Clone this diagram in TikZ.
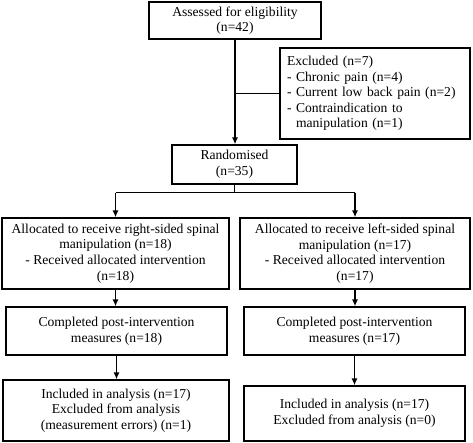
\documentclass[tikz,border=0pt]{standalone}
\usepackage{fontspec}
\setmainfont{Liberation Serif}
\usetikzlibrary{arrows.meta}
\begin{document}
\begin{tikzpicture}[x=1pt,y=-1pt,
  box/.style={draw, line width=1.3pt, align=center, inner sep=2pt,
    font=\fontsize{13.6}{15.6}\selectfont},
  conn/.style={line width=1.3pt},
  arr/.style={line width=1.3pt, -{Latex[length=7pt,width=6pt]}}]
\useasboundingbox (0,0) rectangle (473,443);
\node[box, minimum width=172pt, minimum height=37pt] (assess) at (235,20.5)
  {Assessed for eligibility\\(n=42)};
\node[box, align=left, minimum width=190pt, minimum height=91pt, text width=176pt] (excl) at (375,93.5)
  {Excluded (n=7)\\- Chronic pain (n=4)\\- Current low back pain (n=2)\\- Contraindication to\\\phantom{- }manipulation (n=1)};
\node[box, minimum width=125pt, minimum height=39pt] (rand) at (234.5,164.5)
  {Randomised\\(n=35)};
\node[box, minimum width=227pt, minimum height=71pt] (allocL) at (115.5,253.5)
  {Allocated to receive right-sided spinal\\manipulation (n=18)\\- Received allocated intervention\\(n=18)};
\node[box, minimum width=230pt, minimum height=71pt] (allocR) at (355,253.5)
  {Allocated to receive left-sided spinal\\manipulation (n=17)\\- Received allocated intervention\\(n=17)};
\node[box, minimum width=221pt, minimum height=48pt] (compL) at (116.5,331)
  {Completed post-intervention\\measures (n=18)};
\node[box, minimum width=221pt, minimum height=48pt] (compR) at (354.5,331)
  {Completed post-intervention\\measures (n=17)};
\node[box, minimum width=226pt, minimum height=61pt] (finL) at (116,410.5)
  {Included in analysis (n=17)\\Excluded from analysis\\(measurement errors) (n=1)};
\node[box, minimum width=221pt, minimum height=55pt] (finR) at (354.5,413.5)
  {Included in analysis (n=17)\\Excluded from analysis (n=0)};
% connectors
\coordinate (j) at (assess.south |- excl.west);
\draw[arr] (assess.south) -- (assess.south |- rand.north);
\draw[conn] (j) -- (excl.west);
\coordinate (split) at ([yshift=-8pt]rand.south);
\coordinate (sl) at (allocL.north |- split);
\coordinate (sr) at (allocR.north |- split);
\draw[conn] (rand.south) -- (split);
\draw[conn] (sl) -- (sr);
\draw[arr] (sl) -- (allocL.north);
\draw[arr] (sr) -- (allocR.north);
\draw[arr] (allocL.south) -- (allocL.south |- compL.north);
\draw[arr] (allocR.south) -- (allocR.south |- compR.north);
\draw[arr] (compL.south) -- (compL.south |- finL.north);
\draw[arr] (compR.south) -- (compR.south |- finR.north);
\end{tikzpicture}
\end{document}
